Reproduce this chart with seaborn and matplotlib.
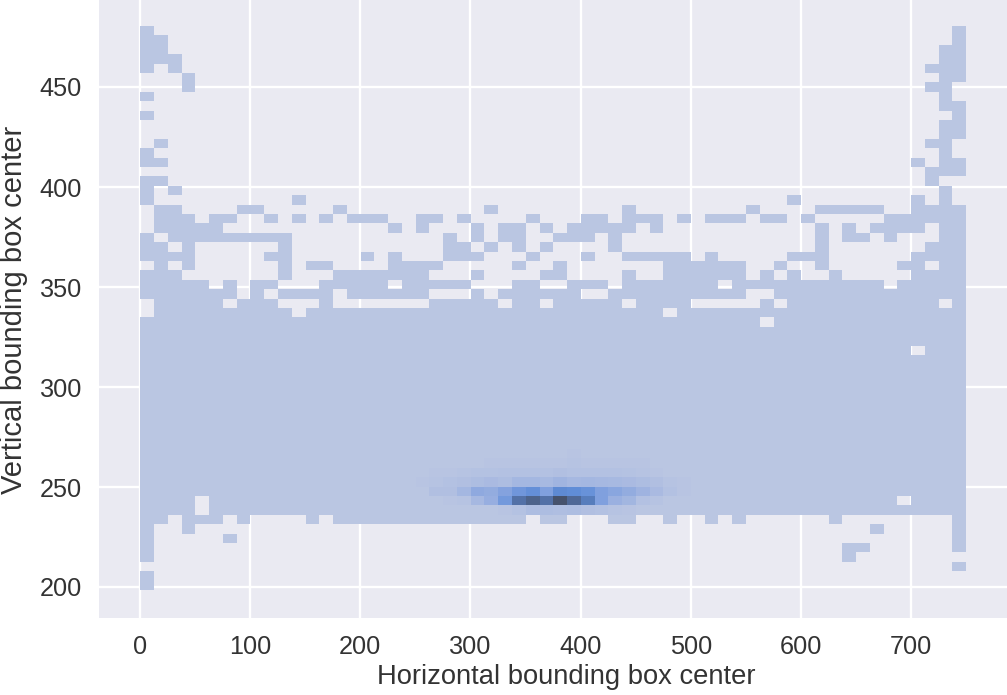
import numpy as np
import pandas as pd
import seaborn as sns
import matplotlib
matplotlib.use("Agg")
import matplotlib.pyplot as plt

x_label = "Horizontal bounding box center"
y_label = "Vertical bounding box center"
x_ticks = [0, 100, 200, 300, 400, 500, 600, 700]
y_ticks = [200, 250, 300, 350, 400, 450]

n_bins = 60
x_range = (0.5, 750.0)
y_range = (198.5, 480.5)

# Occupied columns for each histogram row, top row first
occupied = [
    "0,59", "0,1,59", "0,1,58,59", "0-2,58,59", "0,2,57-59", "3,58,59",
    "3,57,58", "0,58", "58,59", "0,59", "58,59", "58,59", "1,57,58", "0,58",
    "0,1,56,58,59", "57-59", "0,1,57", "0,2,58", "0,11,47,56,58",
    "1,2,7,8,14,25,35,44,49-53,56-59",
    "1-3,5,6,9,11,13,15-17,20,21,23,28,32,33,35-37,39,41-43,45,46,48,54-59",
    "1-5,18,20,24,26,27,29,31-35,37,49,51,53-56,58,59",
    "0,2-10,22,24,26,27,30-32,34,49,51,52,54,58,59",
    "0,1,3,10,22,23,25,27,29,34,49,57-59",
    "0-3,9,10,16,18,22-24,28,32,35-39,41,47-49,56-59",
    "1,3,10,12,13,18-21,27,30,38-43,46,49,55,56,58,59",
    "0-2,10,14-20,24,29,30,35,38-43,45,47,50,56-59",
    "0-4,6,8,9,13-17,19-23,27,28,31-33,35-41,43-53,55-59",
    "0-6,8,10-13,15-20,24,26-31,34-43,46-59",
    "1-5,7-9,13,21-25,27,28,30-34,36-39,45,47-57,59",
    "1-10,12-37,39-59",
    "0-44,46-59", "0-59", "0-59", "0-55,57-59", "0-59", "0-59", "0-59", "0-59",
    "0-59", "0-59", "0-59", "0-59", "0-59", "0-59", "0-59", "0-59", "0-59",
    "0-59",
    "0-59",
    "0-3,5-54,56-59", "0-3,5-59",
    "0,1,3,4,5,7,12,14-27,29,30,34,35,38,41,43,50,59",
    "0,3,53,59", "0,6,59", "0,51,52,59", "0,51", "59", "0", "0",
]

# Counts of the dense cluster: row -> (first column, counts)
cluster = {
    45: (26, [1, 1, 1, 1, 1, 2, 1, 1, 1]),
    46: (22, [1, 1, 1, 2, 2, 2, 2, 2, 2, 3, 2, 2, 2, 2, 2, 1]),
    47: (20, [1, 2, 2, 3, 4, 4, 5, 5, 5, 5, 6, 5, 5, 5, 5, 4, 3, 2, 1]),
    48: (19, [1, 2, 3, 5, 6, 8, 10, 8, 13, 13, 11, 15, 12, 13, 12, 11, 10, 8, 6, 3, 2, 1]),
    49: (20, [1, 6, 6, 13, 24, 22, 30, 40, 46, 32, 50, 48, 44, 32, 27, 22, 16, 10, 5, 2, 1]),
    50: (22, [2, 3, 12, 20, 38, 72, 85, 72, 100, 80, 62, 32, 18, 14, 5, 3]),
    51: (25, [1, 2, 4, 8, 8, 7, 8, 6, 5, 3, 2]),
}


def parse_columns(spec):
    columns = []
    for part in spec.split(","):
        if "-" in part:
            first, last = part.split("-")
            columns.extend(range(int(first), int(last) + 1))
        else:
            columns.append(int(part))
    return columns


x_width = (x_range[1] - x_range[0]) / n_bins
y_width = (y_range[1] - y_range[0]) / n_bins
records = []
for row, spec in enumerate(occupied):
    row_center = y_range[1] - (row + 0.5) * y_width
    first, counts = cluster.get(row, (0, []))
    for column in parse_columns(spec):
        offset = column - first
        count = counts[offset] if 0 <= offset < len(counts) else 0
        records.append((x_range[0] + (column + 0.5) * x_width, row_center, max(count, 1)))
table = pd.DataFrame(records, columns=["horizontal", "vertical", "count"])

sns.set_theme()
plt.rcParams["font.family"] = ["Liberation Sans", "DejaVu Sans"]

fig = plt.figure(figsize=(10.07, 6.95), dpi=100)
ax = fig.add_axes([99 / 1007, 1 - 618 / 695, 908 / 1007, 620 / 695])
sns.histplot(data=table, x="horizontal", y="vertical", weights="count",
             bins=n_bins, binrange=(x_range, y_range), ax=ax)
ax.set_xlim(-37, 787)
ax.set_ylim(184.5, 494.5)
ax.set_xticks(x_ticks)
ax.set_yticks(y_ticks)
ax.set_xlabel(x_label, fontsize=19.7, va="center", color=".2")
ax.set_ylabel(y_label, fontsize=21, va="center", color=".2")
ax.xaxis.set_label_coords((566.5 - 99) / 908, (618 - 677) / 620)
ax.yaxis.set_label_coords((14 - 99) / 908, (618 - 310) / 620)
ax.tick_params(labelsize=18.2, pad=6.2, labelcolor=".2")
ax.grid(True, color="white", linewidth=1.7)
for spine in ax.spines.values():
    spine.set_visible(False)
fig.savefig("out.png", dpi=100)
